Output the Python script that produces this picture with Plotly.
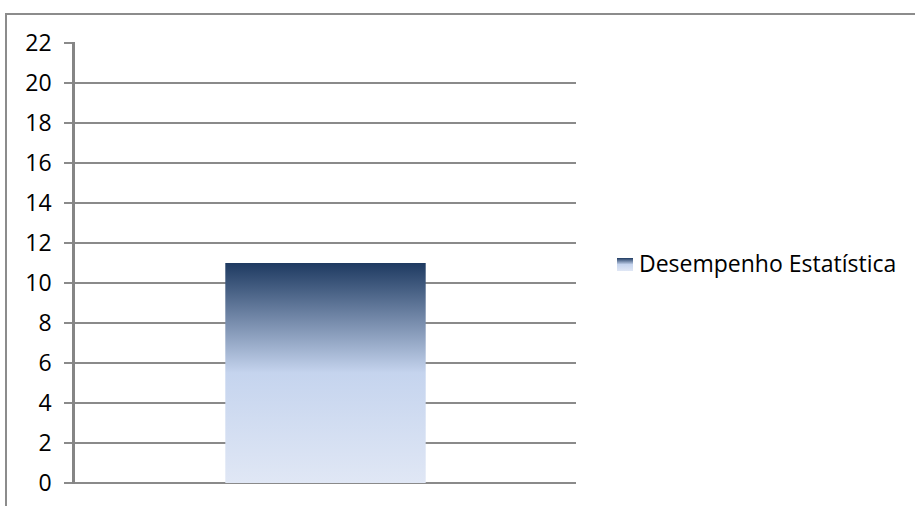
import plotly.graph_objects as go

# Data
categories = ["Desempenho Estatística"]
values = [11]
y_ticks = list(range(0, 23, 2))
series_name = "Desempenho Estatística"

W, H = 915, 506
BAR_WIDTH = 0.4
GRID = "#8a8a8a"
FONT = "Open Sans"
GRADIENT = [[0, "#e0e7f5"], [0.5, "#c5d4ee"], [1, "#1e3a61"]]


def px_x(p):
    return p / W


def px_y(p):
    return (H - p) / H


fig = go.Figure()

# Each bar drawn as a filled polygon so it can carry a vertical gradient
for i, v in enumerate(values):
    x0, x1 = i - BAR_WIDTH / 2, i + BAR_WIDTH / 2
    fig.add_trace(go.Scatter(
        x=[x0, x1, x1, x0, x0],
        y=[0, 0, v, v, 0],
        mode="none",
        fill="toself",
        fillgradient=dict(type="vertical", start=0, stop=v, colorscale=GRADIENT),
        name=series_name,
        hoverinfo="skip",
        showlegend=False,
    ))

# Legend swatch: a unit square with the same gradient on its own small axes
fig.add_trace(go.Scatter(
    x=[0, 1, 1, 0, 0],
    y=[0, 0, 1, 1, 0],
    mode="none",
    fill="toself",
    fillgradient=dict(type="vertical", start=0, stop=1, colorscale=GRADIENT),
    xaxis="x2",
    yaxis="y2",
    hoverinfo="skip",
    showlegend=False,
))

fig.update_layout(
    width=W,
    height=H,
    margin=dict(l=0, r=0, t=0, b=0),
    paper_bgcolor="white",
    plot_bgcolor="white",
    font=dict(family=FONT, size=23, color="#000000"),
    showlegend=False,
    xaxis=dict(
        domain=[px_x(75), px_x(576)],
        range=[-0.5, len(categories) - 0.5],
        showticklabels=False,
        showgrid=False,
        zeroline=False,
        showline=False,
        ticks="",
        fixedrange=True,
        automargin=False,
    ),
    yaxis=dict(
        domain=[px_y(484), px_y(42)],
        range=[-0.05, 22.05],
        tickvals=y_ticks,
        showgrid=True,
        gridcolor=GRID,
        gridwidth=1.5,
        zeroline=False,
        showline=True,
        linecolor="#858585",
        linewidth=2.5,
        ticks="outside",
        ticklen=8,
        tickcolor=GRID,
        tickwidth=1.5,
        ticklabelstandoff=8,
        tickfont=dict(family=FONT, size=23, color="#000000"),
        automargin=False,
        fixedrange=True,
    ),
    xaxis2=dict(
        domain=[px_x(617), px_x(633)],
        range=[0, 1],
        visible=False,
        anchor="y2",
        fixedrange=True,
    ),
    yaxis2=dict(
        domain=[px_y(271), px_y(258)],
        range=[0, 1],
        visible=False,
        anchor="x2",
        fixedrange=True,
    ),
    annotations=[
        dict(
            text=series_name,
            xref="paper", yref="paper",
            x=px_x(637), y=px_y(263),
            xanchor="left", yanchor="middle",
            showarrow=False,
            font=dict(family=FONT, size=23, color="#000000"),
        ),
    ],
    shapes=[
        # outer chart frame
        dict(
            type="rect", xref="paper", yref="paper",
            x0=px_x(6), x1=px_x(930),
            y0=px_y(520), y1=px_y(14),
            line=dict(color="#8c8c8c", width=2),
            fillcolor="rgba(0,0,0,0)",
            layer="below",
        ),
    ],
)

fig.write_html("out.html")
